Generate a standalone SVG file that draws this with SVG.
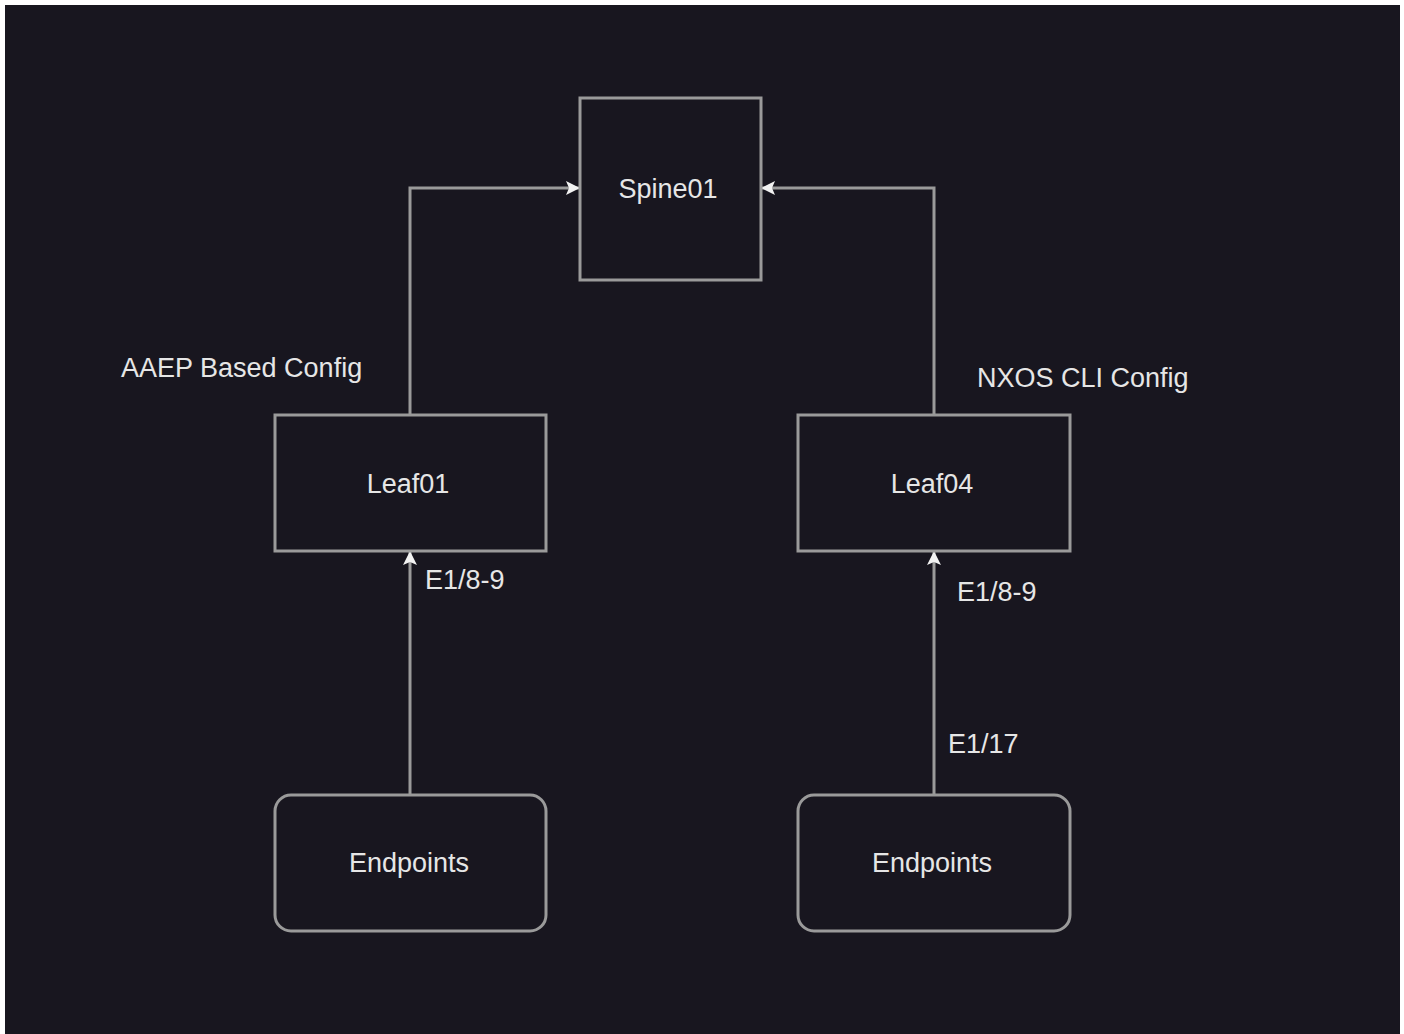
<svg xmlns="http://www.w3.org/2000/svg" width="1404" height="1034" viewBox="0 0 1404 1034">
<defs>
<style>
.node{fill:#18161f;stroke:#9a9a9a;stroke-width:3}
.lbl{font-family:"Liberation Sans",Arial,sans-serif;font-size:27px;fill:#e6e6e6;text-anchor:middle;dominant-baseline:central}
.elbl{font-family:"Liberation Sans",Arial,sans-serif;font-size:27px;fill:#e6e6e6;text-anchor:start;dominant-baseline:central}
.edge{fill:none;stroke:#9a9a9a;stroke-width:3}
</style>
<marker id="arr" viewBox="0 0 14 14" refX="13" refY="7" markerWidth="14" markerHeight="14" markerUnits="userSpaceOnUse" orient="auto">
<path d="M0,0 L14,7 L0,14 L3,7 Z" fill="#f2f2f2"/>
</marker>
</defs>
<rect x="0" y="0" width="1404" height="1034" fill="#ffffff"/>
<rect x="5" y="5" width="1395" height="1029" fill="#18161f"/>
<g id="connectors">
<path class="edge" d="M410,415 V188 H579" marker-end="url(#arr)"/>
<path class="edge" d="M934,415 V188 H762" marker-end="url(#arr)"/>
<path class="edge" d="M410,795 V552" marker-end="url(#arr)"/>
<path class="edge" d="M934,795 V552" marker-end="url(#arr)"/>
<text class="elbl" x="121" y="368">AAEP Based Config</text>
<text class="elbl" x="977" y="378">NXOS CLI Config</text>
<text class="elbl" x="425" y="580">E1/8-9</text>
<text class="elbl" x="957" y="592">E1/8-9</text>
<text class="elbl" x="948" y="744">E1/17</text>
</g>
<g id="spine01">
<rect class="node" x="580" y="98" width="181" height="182"/>
<text class="lbl" x="668" y="189">Spine01</text>
</g>
<g id="leaf01">
<rect class="node" x="275" y="415" width="271" height="136"/>
<text class="lbl" x="408" y="484">Leaf01</text>
</g>
<g id="leaf04">
<rect class="node" x="798" y="415" width="272" height="136"/>
<text class="lbl" x="932" y="484">Leaf04</text>
</g>
<g id="endpoints1">
<rect class="node" x="275" y="795" width="271" height="136" rx="16" ry="16"/>
<text class="lbl" x="409" y="863">Endpoints</text>
</g>
<g id="endpoints2">
<rect class="node" x="798" y="795" width="272" height="136" rx="16" ry="16"/>
<text class="lbl" x="932" y="863">Endpoints</text>
</g>
</svg>
